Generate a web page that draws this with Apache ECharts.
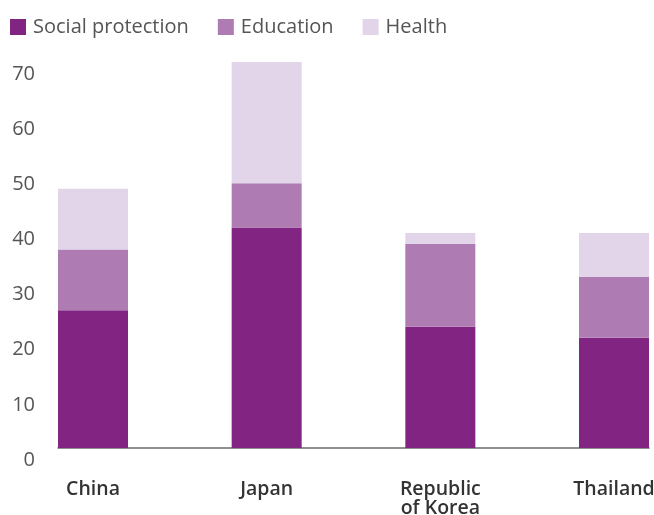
<!DOCTYPE html>
<html>
<head>
<meta charset="utf-8">
<script src="https://cdn.jsdelivr.net/npm/echarts@6/dist/echarts.min.js"></script>
<style>
  html, body { margin: 0; padding: 0; background: #fff; }
  #chart { width: 654px; height: 515px; }
</style>
</head>
<body>
<div id="chart"></div>
<script>
// Economies along the horizontal axis
const countries = ['China', 'Japan', 'Republic\nof Korea', 'Thailand'];
// Stacked components
const socialProtection = [25, 40, 22, 20];
const education = [11, 8, 15, 11];
const health = [11, 22, 2, 8];
// Vertical axis ticks
const yTicks = [0, 10, 20, 30, 40, 50, 60, 70];

const seriesNames = ['Social protection', 'Education', 'Health'];
const seriesColors = ['#822482', '#AE7CB2', '#E2D4E9'];
const seriesValues = [socialProtection, education, health];

const FONT = 'Open Sans';
const FS = 20;
const chart = echarts.init(document.getElementById('chart'), null, { renderer: 'canvas' });

chart.setOption({
  animation: false,
  textStyle: { fontFamily: FONT },
  legend: {
    left: 10,
    top: 17,
    padding: 0,
    itemWidth: 16,
    itemHeight: 16,
    itemGap: 29,
    icon: 'rect',
    textStyle: { fontFamily: FONT, fontSize: FS, color: '#555', padding: [0, 0, 0, 2] },
    data: seriesNames
  },
  grid: [
    // bars: category centres run from the first to the last bar
    { left: 93, right: 40, top: 62, bottom: 67, containLabel: false, outerBoundsMode: 'none' },
    // baseline: spans from the outer edge of the first bar to the outer edge of the last
    { left: 58, right: 5, top: 62, bottom: 67, containLabel: false, outerBoundsMode: 'none' }
  ],
  xAxis: [
    {
      type: 'category',
      gridIndex: 0,
      data: countries,
      boundaryGap: false,
      axisTick: { show: false },
      axisLine: { show: false },
      axisLabel: {
        color: '#333',
        fontFamily: FONT,
        fontWeight: 600,
        fontSize: 19.5,
        lineHeight: 19,
        margin: 32,
        verticalAlign: 'top',
        interval: 0
      }
    },
    {
      type: 'value',
      gridIndex: 1,
      min: 0,
      max: 1,
      splitLine: { show: false },
      axisTick: { show: false },
      axisLabel: { show: false },
      axisLine: { show: true, lineStyle: { color: '#6b6b6b', width: 1.5 } }
    }
  ],
  yAxis: [
    {
      type: 'value',
      gridIndex: 0,
      min: yTicks[0],
      max: yTicks[yTicks.length - 1],
      interval: 10,
      splitLine: { show: false },
      axisLine: { show: false },
      axisTick: { show: false },
      axisLabel: {
        color: '#555',
        fontFamily: FONT,
        fontSize: FS,
        margin: 58,
        verticalAlign: 'top',
        padding: [2, 0, 0, 0]
      }
    },
    {
      type: 'value',
      gridIndex: 1,
      min: 0,
      max: 1,
      show: false
    }
  ],
  series: seriesNames.map((name, s) => ({
    name: name,
    type: 'bar',
    stack: 'total',
    xAxisIndex: 0,
    yAxisIndex: 0,
    barWidth: 70,
    itemStyle: { color: seriesColors[s] },
    data: seriesValues[s]
  }))
});
</script>
</body>
</html>
